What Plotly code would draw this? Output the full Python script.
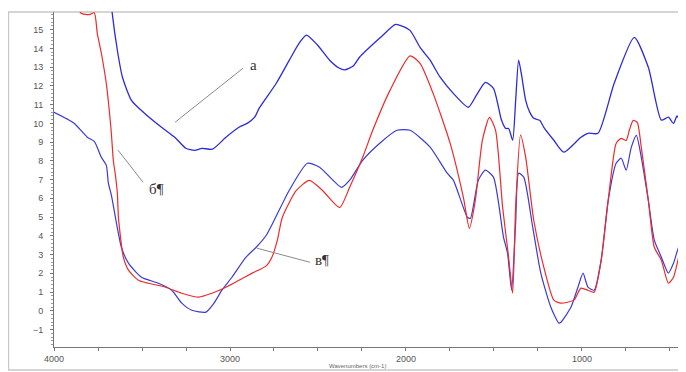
import plotly.graph_objects as go

# Curve "а" (upper blue)
wn_a = [3675, 3669, 3640, 3611, 3560, 3486, 3389, 3314, 3251, 3200, 3160, 3100, 3023, 2949, 2900,
        2860, 2834, 2737, 2663, 2606, 2566, 2503, 2434, 2380, 2349, 2300, 2263, 2149, 2060, 2034,
        1977, 1920, 1863, 1806, 1731, 1646, 1600, 1549, 1503, 1457, 1434, 1417, 1394, 1377, 1360,
        1343, 1320, 1297, 1274, 1240, 1217, 1160, 1103, 1006, 966, 909, 817, 703, 623, 549, 509,
        480, 460, 440, 420, 410]
ab_a = [16.5, 15.87, 13.90, 12.46, 11.23, 10.54, 9.79, 9.26, 8.67, 8.56, 8.67, 8.62, 9.26, 9.79, 10.01,
        10.33, 10.81, 12.14, 13.37, 14.29, 14.71, 14.18, 13.37, 12.95, 12.85, 13.06, 13.54, 14.55, 15.28, 15.23,
        14.96, 14.05, 13.37, 12.46, 11.60, 10.86, 11.50, 12.19, 11.87, 10.16, 9.73, 9.73, 9.10, 11.2, 13.37,
        12.56, 11.23, 10.60, 10.27, 10.16, 9.79, 9.10, 8.46, 9.26, 9.47, 9.47, 12.14, 14.59, 12.99, 10.17, 10.33,
        10.0, 10.4, 10.1, 10.4, 9.5]

# Curve "б" (red)
wn_b = [3880, 3846, 3800, 3771, 3754, 3731, 3703, 3686, 3674, 3663, 3651, 3640, 3634, 3606, 3577,
        3520, 3463, 3366, 3274, 3177, 3103, 3023, 2949, 2874, 2794, 2760, 2730, 2703, 2623, 2549, 2474,
        2377, 2320, 2246, 2189, 2091, 1977, 1920, 1846, 1749, 1674, 1640, 1606, 1566, 1526, 1491,
        1451, 1417, 1394, 1377, 1349, 1320, 1274, 1217, 1160, 1120, 1046, 1006, 966, 931, 891,
        851, 806, 777, 749, 731, 709, 686, 663, 623, 589, 549, 509, 480, 451, 429, 417, 411, 405]
ab_b = [16.5, 15.87, 15.8, 15.9, 14.80, 13.74, 12.14, 10.70, 9.47, 8.03, 7.23, 6.27, 5.0, 2.86, 2.17,
        1.63, 1.47, 1.26, 0.94, 0.73, 0.94, 1.26, 1.63, 2.01, 2.40, 2.9, 3.8, 4.98, 6.42, 6.96, 6.42,
        5.51, 6.59, 8.19, 9.63, 11.76, 13.6, 13.2, 11.6, 8.93, 6.05, 4.40, 5.89, 9.09, 10.32, 9.63,
        5.53, 2.86, 0.94, 5.53, 9.37, 8.19, 4.83, 2.33, 0.57, 0.41, 0.57, 1.21, 1.10, 0.99, 2.70,
        5.89, 8.93, 9.20, 9.09, 9.63, 10.16, 10.05, 8.72, 5.89, 3.39, 2.70, 1.47, 1.79, 2.86, 3.77, 0.57, 2.2, 0.0]

# Curve "в" (lower blue)
wn_c = [4000, 3886, 3811, 3771, 3731, 3703, 3691, 3674, 3651, 3617, 3577, 3503, 3406, 3331, 3274,
        3217, 3137, 3091, 3046, 2989, 2909, 2851, 2794, 2740, 2663, 2560, 2491, 2366, 2320,
        2246, 2149, 2051, 1977, 1863, 1766, 1731, 1651, 1634, 1589, 1549, 1503, 1446, 1423, 1400,
        1377, 1360, 1331, 1280, 1234, 1177, 1131, 1120, 1063, 1023, 994, 966, 931, 891, 851,
        806, 777, 749, 720, 691, 663, 623, 589, 549, 509, 480, 451, 423, 409]
ab_c = [10.59, 10.01, 9.26, 9.04, 8.19, 7.77, 6.81, 6.17, 4.99, 3.39, 2.54, 1.79, 1.47, 1.10, 0.41,
        0.03, -0.07, 0.41, 1.10, 1.79, 2.86, 3.39, 4.03, 5.0, 6.43, 7.87, 7.66, 6.59, 6.97,
        8.03, 8.94, 9.63, 9.63, 8.73, 7.34, 6.97, 4.99, 4.94, 6.97, 7.50, 7.13, 3.93, 3.07, 1.10,
        4.67, 7.34, 7.13, 4.46, 2.01, 0.19, -0.66, -0.61, 0.19, 1.26, 2.01, 1.26, 1.10, 2.70, 5.89,
        7.87, 8.14, 7.50, 8.72, 9.36, 8.19, 5.89, 3.77, 2.86, 2.01, 2.54, 3.39, 3.77, 3.39]

y_ticks = list(range(-1, 16))
x_ticks = [4000 - 250 * i for i in range(15)]
x_tick_text = [str(v) if v % 1000 == 0 else "" for v in x_ticks]

# annotation labels: text, label position, leader line start/end (data coords)
ann_text = ["а", "б¶", "в¶"]
ann_label = [(2869, 13.1), (3420, 6.5), (2477, 2.7)]
ann_line = [((3312, 10.06), (2926, 12.94)), ((3636, 8.57), (3494, 6.86)), ((2847, 3.34), (2545, 2.59))]

fig = go.Figure()
fig.add_trace(go.Scatter(x=wn_a, y=ab_a, mode="lines", line=dict(color="#2b2bdc", width=1.3, shape="spline", smoothing=0.6), showlegend=False))
fig.add_trace(go.Scatter(x=wn_c, y=ab_c, mode="lines", line=dict(color="#3a3ad8", width=1.2, shape="spline", smoothing=0.6), showlegend=False))
fig.add_trace(go.Scatter(x=wn_b, y=ab_b, mode="lines", line=dict(color="#ee2a2a", width=1.2, shape="spline", smoothing=0.6), showlegend=False))

for (p0, p1) in ann_line:
    fig.add_shape(type="line", x0=p0[0], y0=p0[1], x1=p1[0], y1=p1[1], xref="x", yref="y",
                  line=dict(color="#8a8a8a", width=1))
for t, (lx, ly) in zip(ann_text, ann_label):
    fig.add_annotation(x=lx, y=ly, text=t, showarrow=False,
                       font=dict(family="Liberation Serif", size=15, color="#333333"))

# outer frame
fig.add_shape(type="rect", xref="paper", yref="paper", x0=-0.072, x1=1.01, y0=-0.0687, y1=1.0,
              line=dict(color="#c8c8c8", width=1.5), layer="below")

fig.add_annotation(x=0.48, y=-0.058, xref="paper", yref="paper", text="Wavenumbers (cm-1)", showarrow=False,
                   font=dict(family="Liberation Sans", size=6, color="#666"), yanchor="middle")

fig.update_layout(
    width=678, height=364,
    margin=dict(l=46, r=0, t=4, b=25),
    paper_bgcolor="white", plot_bgcolor="white",
    xaxis=dict(range=[4000, 409], tickvals=x_ticks, ticktext=x_tick_text, ticks="outside", ticklen=3,
               tickcolor="#777", showline=True, linecolor="#777", linewidth=1, showgrid=False, zeroline=False,
               tickfont=dict(family="Liberation Sans", size=9, color="#555")),
    yaxis=dict(range=[-1.93, 15.94], tickvals=y_ticks, ticks="outside", ticklen=3, tickcolor="#777",
               showline=True, linecolor="#777", linewidth=1, showgrid=False, zeroline=False,
               ticklabelstandoff=5,
               minor=dict(dtick=0.2, ticks="outside", ticklen=2, tickcolor="#999", showgrid=False),
               tickfont=dict(family="Liberation Sans", size=9, color="#555")),
)

fig.write_html("out.html")
